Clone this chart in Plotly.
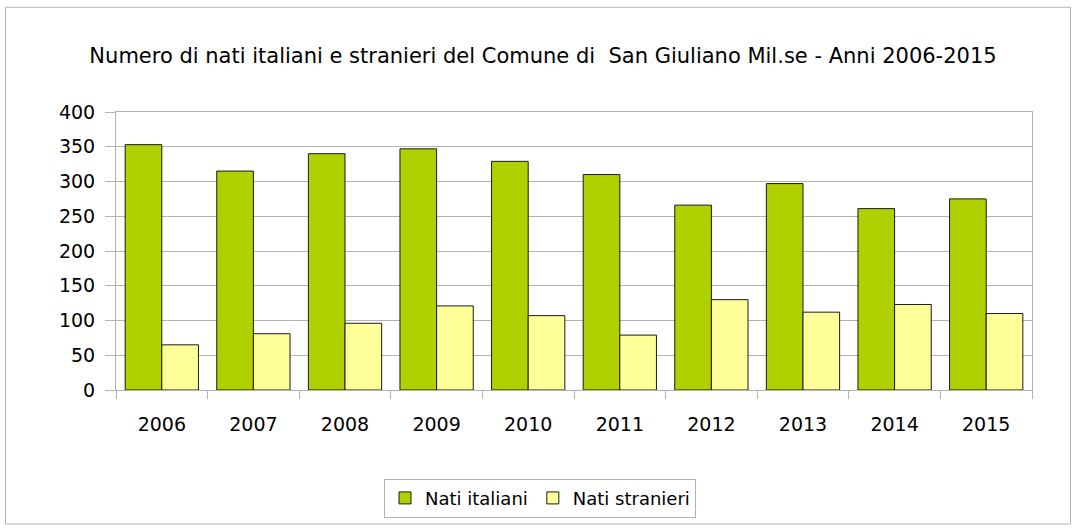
import plotly.graph_objects as go

years = ["2006", "2007", "2008", "2009", "2010", "2011", "2012", "2013", "2014", "2015"]
nati_italiani = [353, 315, 340, 347, 329, 310, 266, 297, 261, 275]
nati_stranieri = [65, 81, 96, 121, 107, 79, 130, 112, 123, 110]

title_text = "Numero di nati italiani e stranieri del Comune di\u00a0 San Giuliano Mil.se - Anni 2006-2015"

W, H = 1076, 530
L, R, T, B = 116, 44, 112, 138
pw, ph = W - L - R, H - T - B

def px2paper_x(px):
    return (px - L) / pw

def px2paper_y(py):
    return (H - B - py) / ph

fig = go.Figure()
fig.add_trace(go.Bar(x=years, y=nati_italiani, name="Nati italiani",
                     marker=dict(color="#b0d000", line=dict(color="#1a1a1a", width=1))))
fig.add_trace(go.Bar(x=years, y=nati_stranieri, name="Nati stranieri",
                     marker=dict(color="#ffff99", line=dict(color="#1a1a1a", width=1))))

fig.update_layout(
    width=W, height=H,
    margin=dict(l=L, r=R, t=T, b=B),
    paper_bgcolor="white", plot_bgcolor="white",
    font=dict(family="DejaVu Sans", color="#000000", size=18),
    barmode="group", bargap=0.2, bargroupgap=0,
    title=dict(text=title_text, x=px2paper_x(543), xref="paper", xanchor="center",
               y=1 - 56 / H, yanchor="middle", font=dict(size=21)),
    legend=dict(orientation="h", x=px2paper_x(540), xanchor="center",
                y=px2paper_y(501), yanchor="middle",
                bordercolor="#b3b3b3", borderwidth=1, font=dict(size=18),
                itemwidth=30, tracegroupgap=0),
    showlegend=True,
)
fig.update_xaxes(showgrid=False, showline=True, linecolor="#b3b3b3", linewidth=1,
                 ticks="outside", tickson="boundaries", ticklen=8, tickcolor="#b3b3b3",
                 tickfont=dict(size=19), mirror=True, ticklabelstandoff=17)
fig.update_yaxes(range=[0, 400], dtick=50, showgrid=True, gridcolor="#b3b3b3",
                 showline=True, linecolor="#b3b3b3", linewidth=1, mirror=True,
                 ticks="outside", ticklen=10, tickcolor="#b3b3b3",
                 tickfont=dict(size=19), zeroline=False, ticklabelstandoff=6)

fig.add_shape(type="rect", xref="paper", yref="paper",
              x0=px2paper_x(5.5), x1=px2paper_x(1070.5),
              y0=px2paper_y(527), y1=px2paper_y(6.5),
              line=dict(color="#b3b3b3", width=1), layer="below")

fig.write_html("out.html", config={"displayModeBar": False},
               post_script="document.body.style.margin='0';document.body.style.overflow='hidden';")
